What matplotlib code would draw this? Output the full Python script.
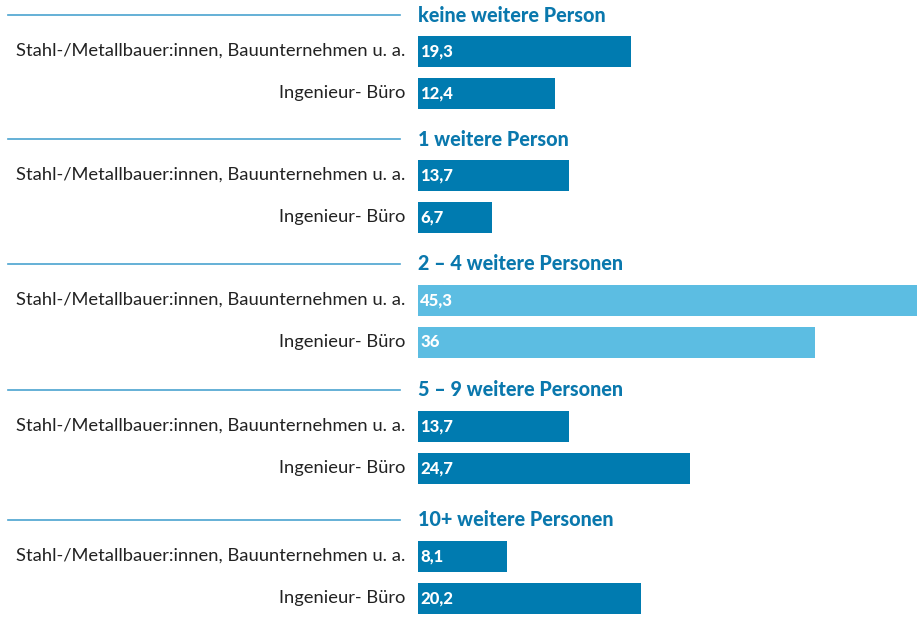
import matplotlib.pyplot as plt
import matplotlib.transforms as mtransforms

groups = ["keine weitere Person", "1 weitere Person", "2 – 4 weitere Personen",
          "5 – 9 weitere Personen", "10+ weitere Personen"]
categories = ["Stahl-/Metallbauer:innen, Bauunternehmen u. a.", "Ingenieur- Büro"]
stahl = [19.3, 13.7, 45.3, 13.7, 8.1]
ingenieur = [12.4, 6.7, 36, 24.7, 20.2]
highlight = [False, False, True, False, False]

dark = "#007bb0"
light = "#5cbde2"
head_col = "#0a78ad"

plt.rcParams['font.family'] = ['Lato', 'DejaVu Sans']

W, H = 917, 617
fig = plt.figure(figsize=(W / 100, H / 100), dpi=100)
x0 = 418
ax = fig.add_axes([x0 / W, 0, (W - x0) / W, 1])
ax.set_xlim(0, 45.3)
ax.set_ylim(H, 0)
ax.axis('off')

# x in figure fraction, y in data (pixel rows)
line_tr = mtransforms.blended_transform_factory(fig.transFigure, ax.transData)

head_y = [15, 139, 264, 390, 520]
off = [36, 78]
bar_h = 31

fmt = lambda v: f"{v:g}".replace('.', ',')

for g, name in enumerate(groups):
    hy = head_y[g]
    ax.plot([8 / W, 400 / W], [hy, hy], color="#4aa3cf", lw=1.2,
            transform=line_tr, clip_on=False)
    ax.text(0, hy, name, color=head_col, fontsize=14.2, fontweight='black',
            va='center', ha='left')
    col = light if highlight[g] else dark
    for k, vals in enumerate([stahl, ingenieur]):
        y = hy + off[k]
        ax.barh(y, vals[g], height=bar_h, color=col, left=0)
        ax.text(0.2, y, fmt(vals[g]), color='white', fontsize=12,
                fontweight='black', va='center', ha='left')
        ax.text(405 / W, y, categories[k], transform=line_tr, fontsize=13.2,
                color='#222222', va='center', ha='right')

fig.savefig("out.png", dpi=100)
